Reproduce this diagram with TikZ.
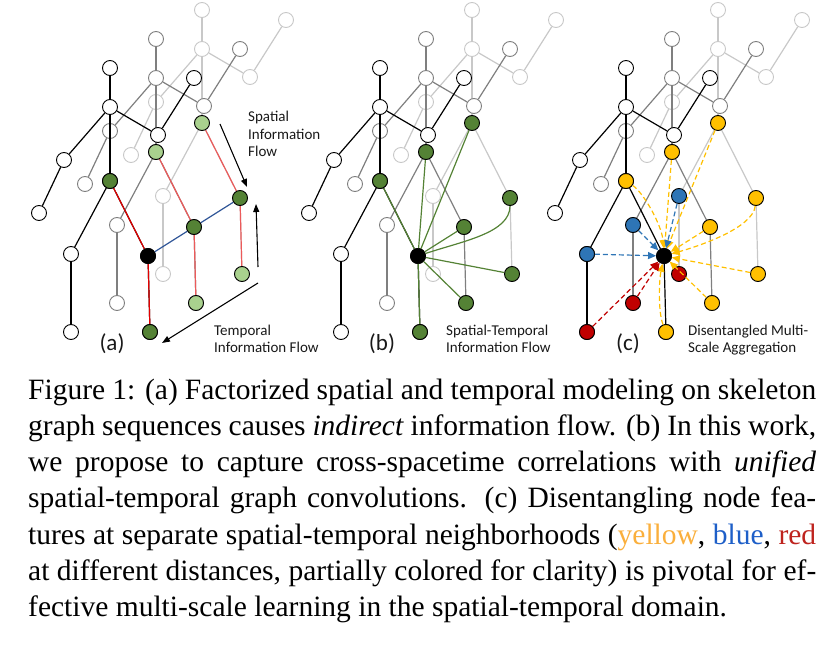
\documentclass[tikz,border=0pt]{standalone}
\usepackage{fontspec}
\setmainfont{Liberation Serif}
\newfontfamily\labelfont{Carlito}
\usepackage{tikz}
\usetikzlibrary{arrows.meta}

\definecolor{dkgreen}{RGB}{84,130,53}
\definecolor{ltgreen}{RGB}{169,209,142}
\definecolor{scyellow}{RGB}{255,192,0}
\definecolor{scblue}{RGB}{46,117,182}
\definecolor{scred}{RGB}{192,0,0}
\definecolor{midgray}{RGB}{127,127,127}
\definecolor{ltgray}{RGB}{200,200,200}
\definecolor{flowred}{RGB}{228,0,0}
\definecolor{paleflowred}{RGB}{236,90,90}
\definecolor{flowblue}{RGB}{47,85,151}
\definecolor{capyellow}{RGB}{250,175,60}
\definecolor{capblue}{RGB}{30,95,200}
\definecolor{capred}{RGB}{190,35,30}

% one skeleton frame: #1 name prefix, #2/#3 shift, #4 line colour
\newcommand{\skeleton}[4]{%
  \begin{scope}[shift={(#2,#3)}]
    \node[joint, draw=#4] (#1head)  at (110,68)  {};
    \node[joint, draw=#4] (#1neck)  at (110,107) {};
    \node[joint, draw=#4] (#1lelb)  at (64,160)  {};
    \node[joint, draw=#4] (#1lhand) at (39,213)  {};
    \node[joint, draw=#4] (#1relb)  at (158,135) {};
    \node[joint, draw=#4] (#1rhand) at (194,78)  {};
    \node[joint, draw=#4] (#1hip)   at (110,181) {};
    \node[joint, draw=#4] (#1lknee) at (71,254)  {};
    \node[joint, draw=#4] (#1lfoot) at (71,332)  {};
    \node[joint, draw=#4] (#1rknee) at (148,256) {};
    \node[joint, draw=#4] (#1rfoot) at (150,332) {};
  \end{scope}
  \foreach \ja/\jb in {head/neck, neck/lelb, lelb/lhand, neck/relb, relb/rhand,
                       neck/hip, hip/lknee, lknee/lfoot, hip/rknee, rknee/rfoot}
    \draw[bone, #4] (#1\ja) -- (#1\jb);
}

\begin{document}
\begin{tikzpicture}[
    x=1pt, y=-1pt,
    joint/.style={circle, draw, fill=white, line width=0.9pt, minimum size=15pt, inner sep=0pt},
    bone/.style={line width=1.2pt},
    dkjoint/.style={joint, draw=black, fill=dkgreen},
    ltjoint/.style={joint, draw=black, fill=ltgreen},
    yjoint/.style={joint, draw=black, fill=scyellow},
    bjoint/.style={joint, draw=black, fill=scblue},
    rjoint/.style={joint, draw=black, fill=scred},
    hubjoint/.style={joint, draw=black, fill=black},
    redlink/.style={line width=1.2pt, flowred},
    palelink/.style={line width=1.2pt, paleflowred},
    bluelink/.style={line width=1.2pt, flowblue},
    greenlink/.style={line width=1.2pt, dkgreen},
    agg/.style={line width=1.2pt, dash pattern=on 5pt off 3pt, -{Triangle[length=8pt, width=7pt]}},
    flowarrow/.style={-{Triangle[length=8pt, width=6pt]}, line width=1.1pt},
    flowlabel/.style={font=\labelfont\fontsize{15}{17.5}\selectfont, align=left, inner sep=0pt, text=black!90},
    panellabel/.style={font=\labelfont\fontsize{23}{26}\selectfont, inner sep=0pt, text=black!90},
    caption/.style={font=\fontsize{29.5}{36.3}\selectfont, text width=788pt, align=justify, inner sep=0pt}
]
\useasboundingbox (0,0) rectangle (826,655);

% (a) factorized spatial and temporal modeling
\skeleton{a3}{92}{-58}{ltgray}
\skeleton{a2}{46}{-29}{midgray}
\skeleton{a1}{0}{0}{black}

\draw[redlink]  (a1hip) -- (a1rknee) -- (a1rfoot);
\draw[palelink] (a2hip) -- (a2rknee) -- (a2rfoot);
\draw[palelink] (a3hip) -- (a3rknee) -- (a3rfoot);
\draw[bluelink] (a1rknee) -- (a2rknee) -- (a3rknee);

\node[dkjoint]  (ga1hip)   at (a1hip)   {};
\node[hubjoint] (ga1rknee) at (a1rknee) {};
\node[dkjoint]  (ga1rfoot) at (a1rfoot) {};
\node[ltjoint]  (ga2hip)   at (a2hip)   {};
\node[dkjoint]  (ga2rknee) at (a2rknee) {};
\node[ltjoint]  (ga2rfoot) at (a2rfoot) {};
\node[ltjoint]  (ga3hip)   at (a3hip)   {};
\node[dkjoint]  (ga3rknee) at (a3rknee) {};
\node[ltjoint]  (ga3rfoot) at (a3rfoot) {};

\coordinate (sflowA) at (220,124);
\coordinate (sflowB) at (247,187);
\coordinate (uflowA) at (258,267);
\coordinate (uflowB) at (256,204);
\coordinate (tflowA) at (258,283);
\coordinate (tflowB) at (162,343);
\draw[flowarrow] (sflowA) -- (sflowB);
\draw[flowarrow] (uflowA) -- (uflowB);
\draw[flowarrow] (tflowA) -- (tflowB);

\node[flowlabel, anchor=base west] (slabel) at (248,157) {Spatial\\Information\\Flow};
\node[flowlabel, anchor=base west] (tlabel) at (214,352.5) {Temporal\\Information Flow};
\node[panellabel] (pa) at (112,344) {(a)};

% (b) unified spatial-temporal modeling
\skeleton{b3}{362}{-58}{ltgray}
\skeleton{b2}{316}{-29}{midgray}
\skeleton{b1}{270}{0}{black}

\node[hubjoint] (gb1rknee) at (b1rknee) {};
\foreach \jn in {b1hip, b1rfoot, b2hip, b2rknee, b2rfoot, b3hip, b3rfoot}
  \draw[greenlink] (gb1rknee) -- (\jn);
\draw[greenlink] (gb1rknee) .. controls +(45,-15) and +(0,35) .. (b3rknee);
\foreach \jn in {b1hip, b1rfoot, b2hip, b2rknee, b2rfoot, b3hip, b3rknee, b3rfoot}
  \node[dkjoint] (g\jn) at (\jn) {};

\node[flowlabel, anchor=base west] (stlabel) at (446,352.5) {Spatial-Temporal\\Information Flow};
\node[panellabel] (pb) at (382,344) {(b)};

% (c) disentangled multi-scale aggregation
\skeleton{c3}{608}{-58}{ltgray}
\skeleton{c2}{562}{-29}{midgray}
\skeleton{c1}{516}{0}{black}

\node[hubjoint] (gc1rknee) at (c1rknee) {};
\foreach \jn in {c1hip, c1rfoot, c2hip, c2rknee, c2rfoot, c3hip, c3rknee, c3rfoot}
  \node[yjoint] (g\jn) at (\jn) {};
\foreach \jn in {c1lknee, c2lknee, c3lknee}
  \node[bjoint] (g\jn) at (\jn) {};
\foreach \jn in {c1lfoot, c2lfoot, c3lfoot}
  \node[rjoint] (g\jn) at (\jn) {};

\foreach \jn in {c2hip, c3hip, c2rknee, c3rfoot, c2rfoot}
  \draw[agg, scyellow] (g\jn) -- (gc1rknee);
\draw[agg, scyellow] (gc1hip) .. controls +(18,12) and +(-2,-30) .. (gc1rknee);
\draw[agg, scyellow] (gc1rfoot) .. controls +(-8,-20) and +(-5,25) .. (gc1rknee);
\draw[agg, scyellow] (gc3rknee) .. controls +(-3,30) and +(35,-10) .. (gc1rknee);
\foreach \jn in {c1lknee, c2lknee, c3lknee}
  \draw[agg, scblue] (g\jn) -- (gc1rknee);
\foreach \jn in {c1lfoot, c2lfoot}
  \draw[agg, scred] (g\jn) -- (gc1rknee);

\node[flowlabel, anchor=base west] (dmlabel) at (688,352.5) {Disentangled Multi-\\Scale Aggregation};
\node[panellabel] (pc) at (628,344) {(c)};

% caption
\node[caption, anchor=base west] (figcap) at (28,399) {Figure 1: (a) Factorized spatial and temporal modeling on skeleton\linebreak
graph sequences causes \emph{indirect} information flow. (b) In this work,\linebreak
we propose to capture cross-spacetime correlations with \emph{unified}\linebreak
spatial-temporal graph convolutions. (c) Disentangling node fea-\linebreak
tures at separate spatial-temporal neighborhoods (\textcolor{capyellow}{yellow}, \textcolor{capblue}{blue}, \textcolor{capred}{red}\linebreak
at different distances, partially colored for clarity) is pivotal for ef-\linebreak
fective multi-scale learning in the spatial-temporal domain.};

\end{tikzpicture}
\end{document}
